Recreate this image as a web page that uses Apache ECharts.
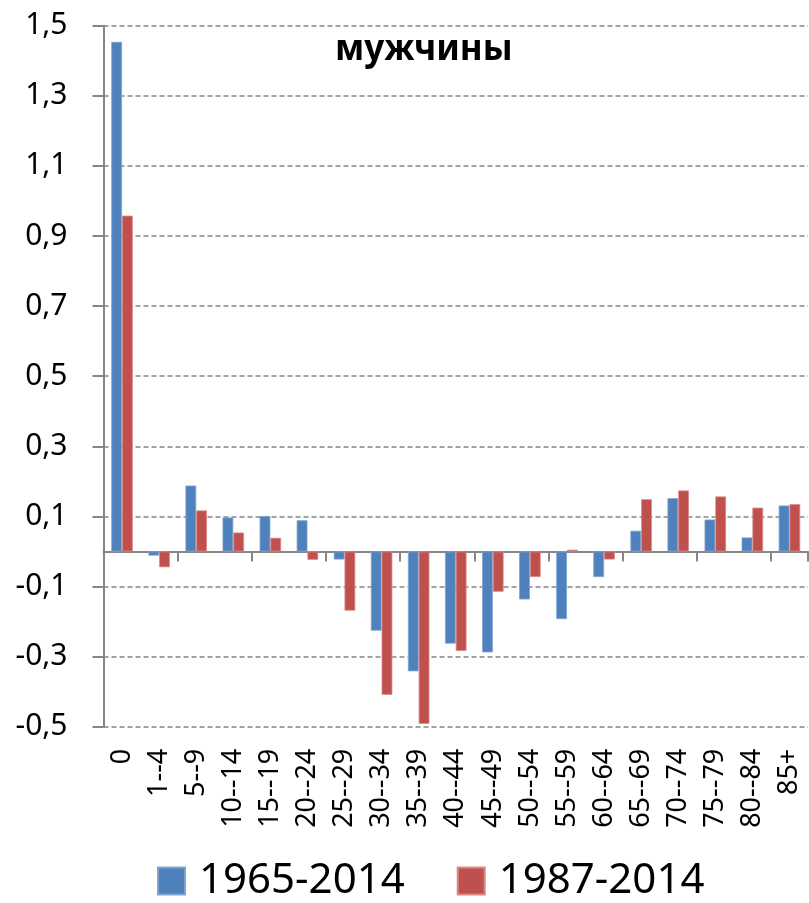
<!DOCTYPE html>
<html>
<head>
<meta charset="utf-8">
<script src="https://cdn.jsdelivr.net/npm/echarts@6/dist/echarts.min.js"></script>
<style>
html,body{margin:0;padding:0;background:#fff;}
#c{width:809px;height:903px;}
</style>
</head>
<body>
<div id="c"></div>
<script>
const categories = ['0','1--4','5--9','10--14','15--19','20--24','25--29','30--34','35--39','40--44','45--49','50--54','55--59','60--64','65--69','70--74','75--79','80--84','85+'];
const seriesNames = ['1965-2014','1987-2014'];
const values1965 = [1.454,-0.012,0.188,0.097,0.101,0.089,-0.023,-0.226,-0.342,-0.263,-0.288,-0.137,-0.193,-0.073,0.059,0.152,0.091,0.040,0.131];
const values1987 = [0.958,-0.045,0.117,0.054,0.039,-0.024,-0.169,-0.409,-0.492,-0.284,-0.115,-0.073,0.005,-0.023,0.149,0.174,0.157,0.125,0.135];
const titleText = 'мужчины';

const FONT = 'Noto Sans';
const chart = echarts.init(document.getElementById('c'), null, {renderer:'canvas'});
chart.setOption({
  animation:false,
  backgroundColor:'#fff',
  title:{
    text:titleText,
    left:335, top:33, padding:0,
    textStyle:{fontFamily:FONT,fontWeight:'bold',fontSize:35,color:'#000'}
  },
  legend:{
    data:seriesNames,
    bottom:-4, left:152,
    itemWidth:27, itemHeight:27, itemGap:52,
    icon:'rect',
    textStyle:{fontFamily:FONT,fontSize:42,color:'#000',padding:[0,0,0,9]}
  },
  grid:{left:103.5,right:1,top:25.7,bottom:176.3,containLabel:false},
  xAxis:[
    {
      type:'category', data:categories, position:'bottom',
      axisLine:{onZero:true,lineStyle:{color:'#868686',width:2}},
      axisTick:{show:true,length:10,lineStyle:{color:'#868686',width:2}},
      axisLabel:{show:false},
      splitLine:{show:false}
    },
    {
      type:'category', data:categories, position:'bottom',
      axisLine:{show:false,onZero:false},
      axisTick:{show:false},
      axisLabel:{show:true,rotate:90,margin:22,fontFamily:FONT,fontSize:27,color:'#000',interval:0},
      splitLine:{show:false}
    }
  ],
  yAxis:{
    type:'value', min:-0.5, max:1.5, interval:0.2,
    axisLine:{show:true,lineStyle:{color:'#868686',width:2}},
    axisTick:{show:true,length:11,lineStyle:{color:'#868686',width:2}},
    axisLabel:{margin:36,fontFamily:FONT,fontSize:30,color:'#000',
      formatter:v=>(Math.round(v*10)/10).toFixed(1).replace('.',',')},
    splitLine:{show:true,lineStyle:{color:'#868686',width:1.5,type:[5,3]}}
  },
  series:[
    {name:seriesNames[0],type:'bar',data:values1965,xAxisIndex:0,barWidth:'29%',barGap:'0%',
      itemStyle:{color:'#4F81BD',borderColor:'#7FA3D3',borderWidth:0.8}},
    {name:seriesNames[1],type:'bar',data:values1987,xAxisIndex:0,barWidth:'29%',barGap:'0%',
      itemStyle:{color:'#C0504D',borderColor:'#D98A88',borderWidth:0.8}}
  ]
});
</script>
</body>
</html>
